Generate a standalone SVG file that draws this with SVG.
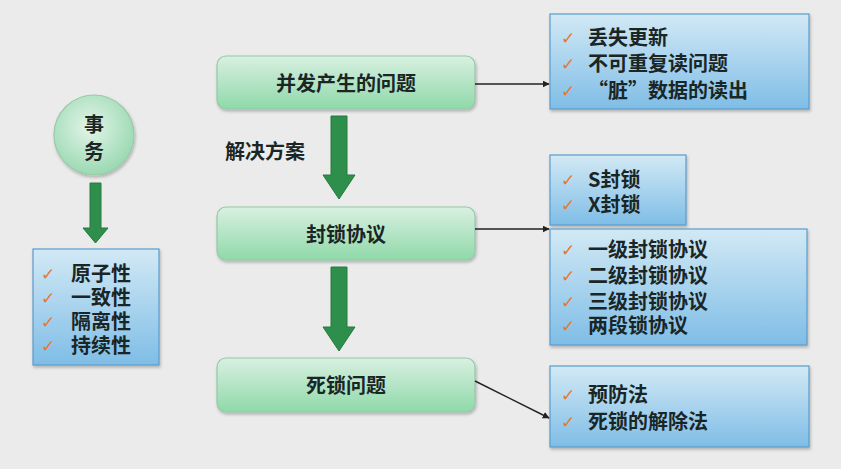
<svg xmlns="http://www.w3.org/2000/svg" width="841" height="469" viewBox="0 0 841 469">
<defs>
<linearGradient id="gBlue" x1="0" y1="0" x2="0" y2="1"><stop offset="0" stop-color="#d2e9f5"/><stop offset="1" stop-color="#7fbde6"/></linearGradient>
<linearGradient id="gGreen" x1="0" y1="0" x2="0" y2="1"><stop offset="0" stop-color="#d9f0e1"/><stop offset="1" stop-color="#8fd9a9"/></linearGradient>
<radialGradient id="gCircle" cx="0.45" cy="0.4" r="0.6"><stop offset="0" stop-color="#e3f5e9"/><stop offset="1" stop-color="#9bd9b2"/></radialGradient>
<marker id="ah" viewBox="0 0 10 10" refX="9" refY="5" markerWidth="7" markerHeight="7" orient="auto" markerUnits="userSpaceOnUse"><path d="M0,0 L10,5 L0,10 z" fill="#222"/></marker>
<filter id="sh" x="-10%" y="-10%" width="120%" height="130%"><feDropShadow dx="1" dy="2" stdDeviation="1.5" flood-color="#000" flood-opacity="0.25"/></filter>
</defs>
<style>
.t{font-family:"Noto Sans CJK SC","Noto Sans",sans-serif;font-size:20px;fill:#1a2626;font-weight:600}
.c{font-family:"DejaVu Sans",sans-serif;font-size:17px;fill:#e8772e;font-weight:bold}
.bx{fill:url(#gBlue);stroke:#5a9ccc;stroke-width:1.2;filter:url(#sh)}
.gb{fill:url(#gGreen);stroke:#93c9a5;stroke-width:1.2;filter:url(#sh)}
.ga{fill:#2e8f4c;stroke:#247a3d;stroke-width:1}
.ln{stroke:#222;stroke-width:1.5;fill:none;marker-end:url(#ah)}
</style>
<rect width="841" height="469" fill="#ebebeb"/>

<g id="transaction">
<circle cx="94" cy="135" r="40" fill="url(#gCircle)" stroke="#9cc9aa" stroke-width="1.2" filter="url(#sh)"/>
<text class="t" x="94" y="132" text-anchor="middle">事</text>
<text class="t" x="94" y="159" text-anchor="middle">务</text>
</g>

<g id="acid">
<rect class="bx" x="33" y="249" width="126" height="116"/>
<text class="c" x="41" y="280">✓</text><text class="t" x="71" y="281">原子性</text>
<text class="c" x="41" y="304">✓</text><text class="t" x="71" y="305">一致性</text>
<text class="c" x="41" y="328">✓</text><text class="t" x="71" y="329">隔离性</text>
<text class="c" x="41" y="352">✓</text><text class="t" x="71" y="353">持续性</text>
</g>

<g id="concurrency">
<rect class="gb" x="217" y="56" width="258" height="53" rx="9"/>
<text class="t" x="346" y="91" text-anchor="middle">并发产生的问题</text>
</g>

<g id="locking">
<rect class="gb" x="217" y="207" width="258" height="53" rx="9"/>
<text class="t" x="346" y="242" text-anchor="middle">封锁协议</text>
</g>

<g id="deadlock">
<rect class="gb" x="217" y="358" width="258" height="54" rx="9"/>
<text class="t" x="346" y="393" text-anchor="middle">死锁问题</text>
</g>

<g id="problems">
<rect class="bx" x="550" y="14" width="259" height="95"/>
<text class="c" x="561" y="44">✓</text><text class="t" x="588" y="45">丢失更新</text>
<text class="c" x="561" y="70">✓</text><text class="t" x="588" y="71">不可重复读问题</text>
<text class="c" x="561" y="97">✓</text><text class="t" x="588" y="98">“脏”数据的读出</text>
</g>

<g id="locks">
<rect class="bx" x="550" y="155" width="136" height="70"/>
<text class="c" x="561" y="186">✓</text><text class="t" x="588" y="187">S封锁</text>
<text class="c" x="561" y="211">✓</text><text class="t" x="588" y="212">X封锁</text>
</g>

<g id="protocols">
<rect class="bx" x="550" y="229" width="257" height="116"/>
<text class="c" x="561" y="256">✓</text><text class="t" x="588" y="257">一级封锁协议</text>
<text class="c" x="561" y="282">✓</text><text class="t" x="588" y="283">二级封锁协议</text>
<text class="c" x="561" y="308">✓</text><text class="t" x="588" y="309">三级封锁协议</text>
<text class="c" x="561" y="332">✓</text><text class="t" x="588" y="333">两段锁协议</text>
</g>

<g id="deadlock-solutions">
<rect class="bx" x="550" y="366" width="259" height="81"/>
<text class="c" x="561" y="401">✓</text><text class="t" x="588" y="402">预防法</text>
<text class="c" x="561" y="428">✓</text><text class="t" x="588" y="429">死锁的解除法</text>
</g>

<g id="connectors">
<path class="ga" d="M90,183 H101 V228 H108 L95.5,243 L83,228 H90 Z"/>
<path class="ga" d="M331,116 H347 V175 H355 L339,199 L323,175 H331 Z"/>
<path class="ga" d="M331,267 H347 V327 H355 L339,351 L323,327 H331 Z"/>
<text class="t" x="225" y="159">解决方案</text>
<line class="ln" x1="475" y1="84" x2="549" y2="84"/>
<line class="ln" x1="475" y1="229" x2="549" y2="229"/>
<line class="ln" x1="475" y1="381" x2="549" y2="418"/>
</g>
</svg>
